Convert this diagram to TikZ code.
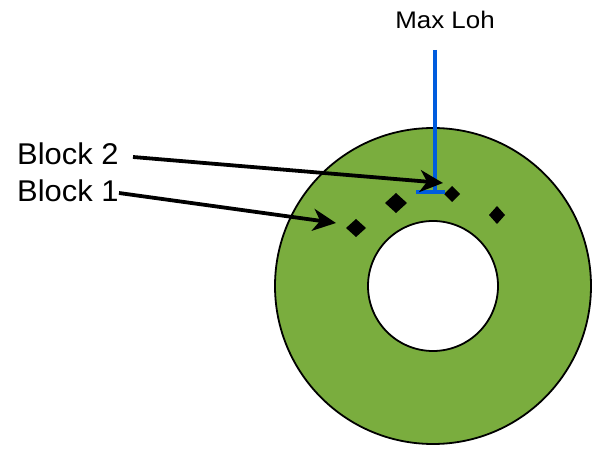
\documentclass[tikz,border=0pt]{standalone}
\usepackage{fontspec}
\setmainfont{Liberation Sans}
\usetikzlibrary{arrows.meta}
\definecolor{disk}{RGB}{122,173,62}
\definecolor{loh}{RGB}{0,92,222}
\tikzset{
  label/.style={inner sep=0pt, font=\fontsize{30}{36}\selectfont, xscale=1.03, anchor=west},
  ptr/.style={line width=3.8pt, -{Stealth[length=23pt, width=22pt, inset=7pt]}},
  blockmark/.style={fill=black, draw=none},
}
\begin{document}
\begin{tikzpicture}[x=1pt, y=-1pt]
\useasboundingbox (0,0) rectangle (600,449);
% platter
\fill[disk, draw=black, line width=1.8pt] (433,286) circle (158);
\fill[white, draw=black, line width=1.8pt] (433,286) circle (65);
% data blocks on the track
\fill[blockmark] (452,186) -- (460,194) -- (452,202) -- (444,194) -- cycle;
\fill[blockmark] (396,193) -- (407,203) -- (396,213) -- (385,203) -- cycle;
\fill[blockmark] (356,219) -- (366,228) -- (356,237) -- (346,228) -- cycle;
\fill[blockmark] (497,206) -- (505,215) -- (497,224) -- (489,215) -- cycle;
% head position marker
\coordinate (headtop) at (435,50);
\coordinate (headfoot) at (435,192);
\draw[loh, line width=3.5pt] (headtop) -- (headfoot);
\draw[loh, line width=3.5pt] (416,192) -- (445,192);
\node[inner sep=0pt, xscale=1.08, font=\fontsize{24}{28}\selectfont] (maxloh) at (445,20) {Max Loh};
% labels and pointers
\node[label] (b2) at (17,154) {Block 2};
\node[label] (b1) at (17,191) {Block 1};
\coordinate (b2tail) at (133,157);
\coordinate (b1tail) at (119,193);
\coordinate (b2tip) at (443,183);
\coordinate (b1tip) at (336,223);
\draw[ptr] (b2tail) -- (b2tip);
\draw[ptr] (b1tail) -- (b1tip);
\end{tikzpicture}
\end{document}
